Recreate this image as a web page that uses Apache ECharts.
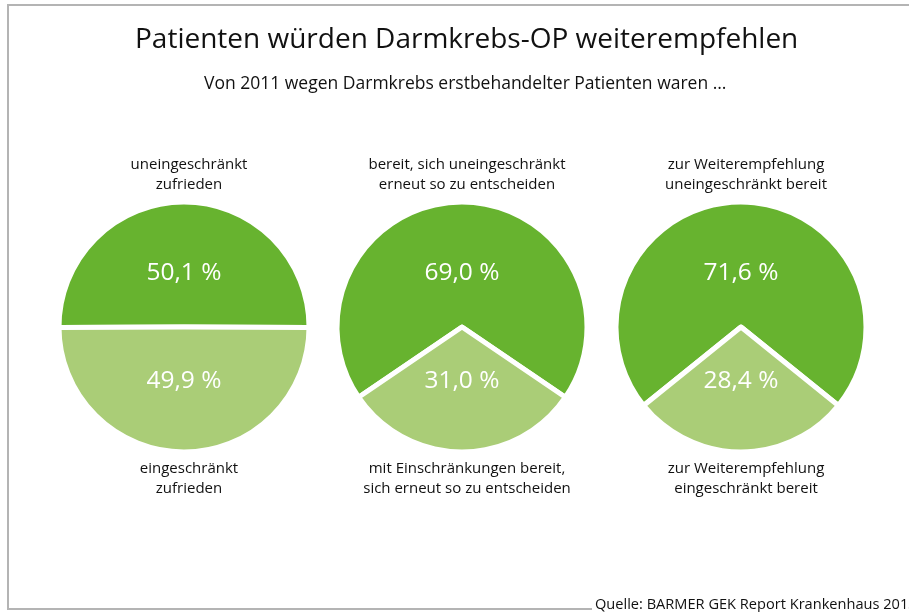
<!DOCTYPE html>
<html><head><meta charset="utf-8">
<script src="https://cdn.jsdelivr.net/npm/echarts@6/dist/echarts.min.js"></script>
<style>html,body{margin:0;padding:0;background:#fff}#c{width:909px;height:612px}</style>
</head><body><div id="c"></div>
<script>
const chartTitle = 'Patienten würden Darmkrebs-OP weiterempfehlen';
const chartSubtitle = 'Von 2011 wegen Darmkrebs erstbehandelter Patienten waren …';
const sourceText = 'Quelle: BARMER GEK Report Krankenhaus 2013';
const topLabels = ['uneingeschränkt\nzufrieden', 'bereit, sich uneingeschränkt\nerneut so zu entscheiden', 'zur Weiterempfehlung\nuneingeschränkt bereit'];
const bottomLabels = ['eingeschränkt\nzufrieden', 'mit Einschränkungen bereit,\nsich erneut so zu entscheiden', 'zur Weiterempfehlung\neingeschränkt bereit'];
const fullValues = [50.1, 69.0, 71.6];
const partialValues = [49.9, 31.0, 28.4];

const FONT = '"Open Sans", "Noto Sans", sans-serif';
const DARK = '#67b32f', LIGHT = '#aacd77';
const centersX = [184, 462, 741];
const centerY = 327;

const fmt = v => v.toFixed(1).replace('.', ',') + ' %';

const titles = [
  {text: chartTitle, left: 130, top: 21, textStyle: {fontFamily: FONT, fontSize: 28, fontWeight: 'normal', color: '#111'}},
  {text: chartSubtitle, left: 199, top: 70, textStyle: {fontFamily: FONT, fontSize: 17.5, fontWeight: 'normal', color: '#111'}}
];
centersX.forEach((x, i) => {
  titles.push({text: topLabels[i], left: x, top: 150, textAlign: 'center', textStyle: {fontFamily: FONT, fontSize: 15, lineHeight: 20, fontWeight: 'normal', color: '#111'}});
  titles.push({text: bottomLabels[i], left: x, top: 454, textAlign: 'center', textStyle: {fontFamily: FONT, fontSize: 15, lineHeight: 20, fontWeight: 'normal', color: '#111'}});
});
titles.push({text: sourceText, left: 592, top: 596, padding: [1, 3, 1, 3], backgroundColor: '#fff', textStyle: {fontFamily: FONT, fontSize: 14.6, fontWeight: 'normal', color: '#111'}});

const series = [];
centersX.forEach((x, i) => {
  const a = fullValues[i], b = partialValues[i];
  const start = 90 + 360 * a / (a + b) / 2;
  series.push({
    type: 'pie', center: [x, centerY], radius: [0, 125], startAngle: start, clockwise: true,
    silent: true, animation: false,
    itemStyle: {borderColor: '#fff', borderWidth: 5},
    label: {show: false}, labelLine: {show: false},
    data: [
      {value: a, itemStyle: {color: DARK}},
      {value: b, itemStyle: {color: LIGHT}}
    ]
  });
  // transparent overlay pie used only to place the percentage labels closer to the centre
  series.push({
    type: 'pie', center: [x, centerY], radius: [0, 102], startAngle: start, clockwise: true,
    silent: true, animation: false, z: 3,
    itemStyle: {color: 'rgba(0,0,0,0)', borderWidth: 0},
    label: {position: 'inside', formatter: p => fmt(p.value), color: '#fff', fontFamily: FONT, fontSize: 24.5, fontWeight: 'normal'},
    labelLine: {show: false},
    data: [{value: a}, {value: b}]
  });
});

const chart = echarts.init(document.getElementById('c'), null, {renderer: 'canvas'});
chart.setOption({
  backgroundColor: '#fff',
  animation: false,
  graphic: [{type: 'rect', z: -10, shape: {x: 8, y: 5, width: 930, height: 604}, style: {fill: 'none', stroke: '#b4b4b4', lineWidth: 2}}],
  title: titles,
  series: series
});
</script></body></html>
